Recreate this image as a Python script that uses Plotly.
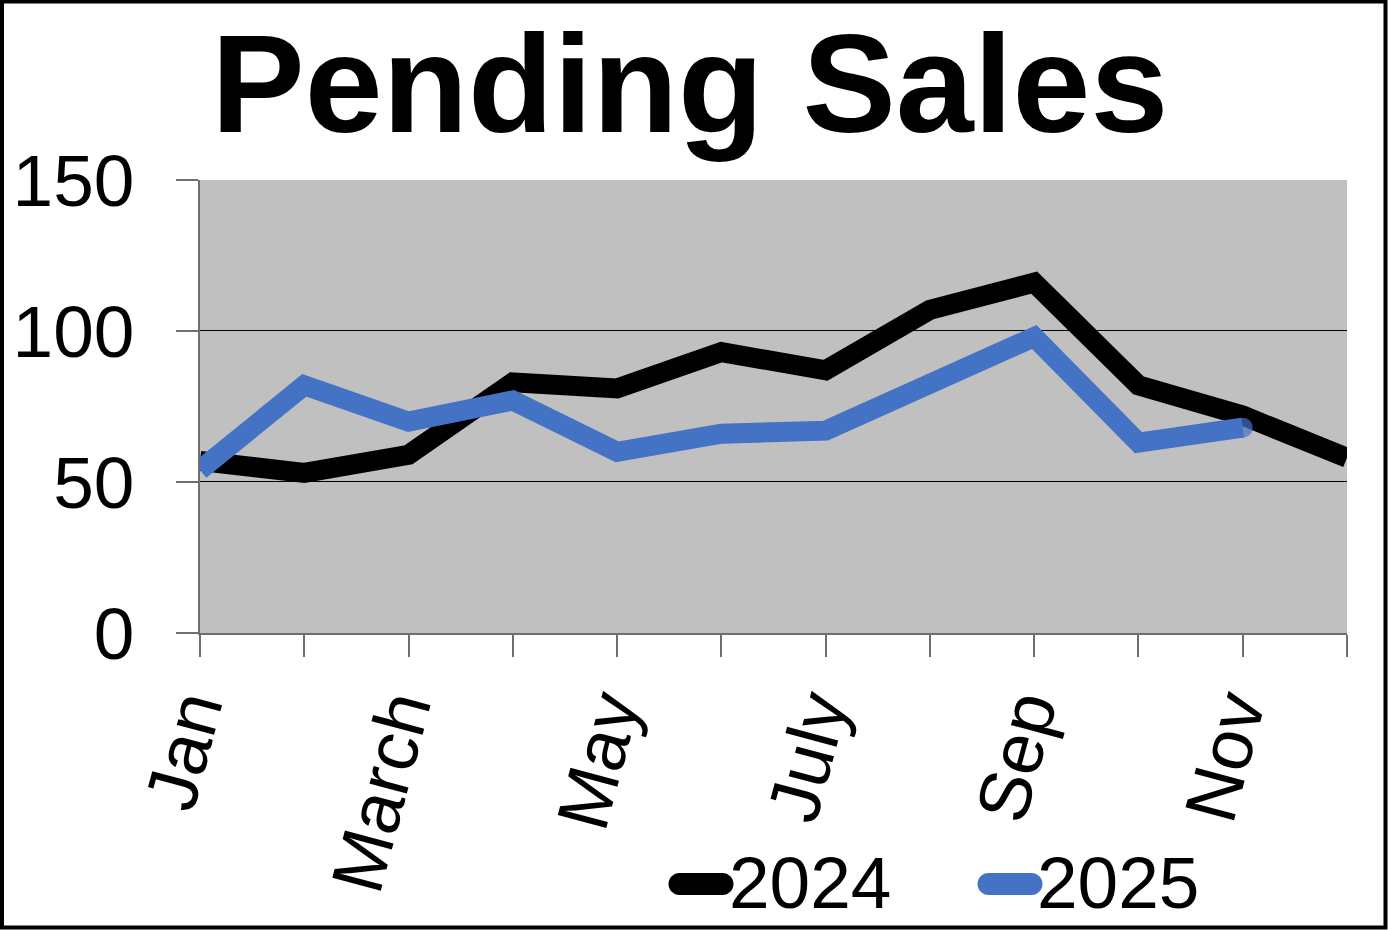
import plotly.graph_objects as go

months = ["Jan", "Feb", "March", "April", "May", "June", "July", "Aug", "Sep", "Oct", "Nov", "Dec"]
tick_text = ["Jan", "", "March", "", "May", "", "July", "", "Sep", "", "Nov", ""]
series_names = ["2024", "2025"]
sales_2024 = [57, 53, 59, 83, 81, 93, 87, 107, 116, 82, 72, 58]
sales_2025 = [54, 82, 70, 77, 60, 66, 67, 83, 98, 63, 68]
series_colors = ["#000000", "#4472C4"]
y_ticks = [0, 50, 100, 150]
grid_vals = [50, 100]

W, H = 1388, 930
ML, MR, MT, MB = 200, 41, 180, 297
PW, PH = W - ML - MR, H - MT - MB
FONT = "Liberation Sans, Arial, sans-serif"
LW = 20
FS = 73


def xp(px):
    return (px - ML) / PW


def yp(py):
    return (H - MB - py) / PH


fig = go.Figure()
fig.add_trace(go.Scatter(x=months, y=sales_2024, mode="lines", name=series_names[0],
                         line=dict(color=series_colors[0], width=LW)))
n25 = len(sales_2025)
fig.add_trace(go.Scatter(x=months[:n25], y=sales_2025, mode="lines+markers", name=series_names[1],
                         line=dict(color=series_colors[1], width=LW),
                         marker=dict(color=series_colors[1], size=[0] * (n25 - 1) + [LW],
                                     line=dict(width=0))))

shapes = []
for g in grid_vals:
    shapes.append(dict(type="line", xref="paper", yref="y", ysizemode="pixel", yanchor=g,
                       x0=0, x1=1, y0=0.5, y1=0.5,
                       line=dict(color="#000000", width=1), layer="below"))
# figure frame
shapes.append(dict(type="rect", xref="paper", yref="paper",
                   x0=xp(2), x1=xp(W - 2.5), y0=yp(H - 2.5), y1=yp(1.5),
                   line=dict(color="#000000", width=4), fillcolor="rgba(0,0,0,0)", layer="above"))

# custom legend (thick rounded line samples)
half, r = 32.5, 11
k = 0.5523 * r
a = half - r
pill = (f"M {-a},{-r} L {a},{-r} C {a + k},{-r} {half},{-k} {half},0 "
        f"C {half},{k} {a + k},{r} {a},{r} L {-a},{r} "
        f"C {-a - k},{r} {-half},{k} {-half},0 C {-half},{-k} {-a - k},{-r} {-a},{-r} Z")
legend_sym_x = [701, 1010]
legend_txt_x = [727, 1035]
legend_y = 884
annotations = []
for name, col, sx, tx in zip(series_names, series_colors, legend_sym_x, legend_txt_x):
    shapes.append(dict(type="path", xref="paper", yref="paper",
                       xsizemode="pixel", ysizemode="pixel",
                       xanchor=xp(sx), yanchor=yp(legend_y), path=pill,
                       fillcolor=col, line=dict(width=0), layer="above"))
    annotations.append(dict(text=name, xref="paper", yref="paper", x=xp(tx), y=yp(882),
                            xanchor="left", yanchor="middle", showarrow=False,
                            font=dict(family=FONT, size=FS, color="#000000")))

fig.update_layout(
    width=W, height=H,
    margin=dict(l=ML, r=MR, t=MT, b=MB, autoexpand=False),
    paper_bgcolor="#FFFFFF",
    plot_bgcolor="#C0C0C0",
    font=dict(family=FONT, color="#000000", size=FS),
    title=dict(text="<b>Pending Sales</b>", x=0.497, xanchor="center", xref="container",
               y=1 - 83 / H, yanchor="middle", yref="container",
               font=dict(family=FONT, size=140, color="#000000")),
    showlegend=False,
    shapes=shapes,
    annotations=annotations,
)
fig.update_xaxes(
    type="category", range=[0, len(months) - 1], automargin=False,
    tickmode="array", tickvals=months, ticktext=tick_text,
    tickangle=-75, ticks="outside", ticklen=22, tickcolor="#6f6f6f", tickwidth=2,
    showline=True, linecolor="#6f6f6f", linewidth=2,
    showgrid=False, zeroline=False, ticklabelstandoff=-17, ticklabelshift=-12,
    tickfont=dict(family=FONT, size=FS, color="#000000"),
)
fig.update_yaxes(
    range=[0, 150], tickmode="array", tickvals=y_ticks, automargin=False,
    ticks="outside", ticklen=22, tickcolor="#6f6f6f", tickwidth=2,
    showline=True, linecolor="#6f6f6f", linewidth=2,
    showgrid=False, zeroline=False, ticklabelstandoff=27,
    tickfont=dict(family=FONT, size=FS, color="#000000"),
)

fig.write_html("out.html", post_script="document.body.style.margin='0';",
               config={"displayModeBar": False})
